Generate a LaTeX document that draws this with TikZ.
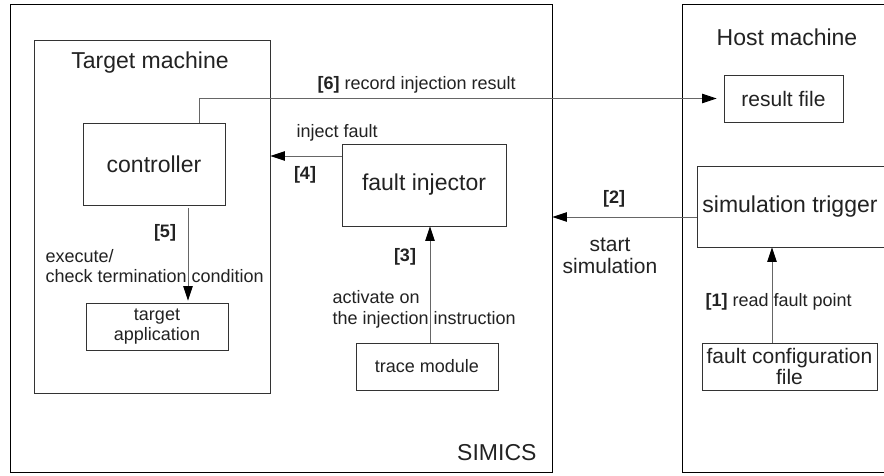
\documentclass[tikz,border=0pt]{standalone}
\usepackage{fontspec}
\setmainfont{Liberation Sans}
\usetikzlibrary{arrows.meta}
\definecolor{ink}{HTML}{222222}
\definecolor{edge}{HTML}{333333}
\definecolor{wire}{HTML}{666666}
\tikzset{
  frame/.style={draw=black, line width=0.9pt, inner sep=0pt},
  unit/.style={draw=edge, line width=0.8pt, inner sep=0pt, text=ink},
  bigtext/.style={font=\fontsize{23}{26}\selectfont, text=ink},
  midtext/.style={font=\fontsize{21}{22}\selectfont, text=ink},
  smalltext/.style={font=\fontsize{18}{20.5}\selectfont, text=ink},
  arr/.style={draw=wire, line width=0.9pt,
    -{Triangle[length=14.5pt,width=9.5pt,color=black]}},
  tag/.style={font=\fontsize{18}{20.5}\selectfont\bfseries, text=ink}
}
\begin{document}
\begin{tikzpicture}[x=1pt,y=-1pt]
\useasboundingbox (0,0) rectangle (884,476);
\clip (0,0) rectangle (884,476);
\fill[white] (0,0) rectangle (884,476);

% outer enclosures
\node[frame, minimum width=542pt, minimum height=468pt] (simics) at (281,238) {};
\node[frame, minimum width=230pt, minimum height=468pt] (host) at (797,238) {};
\node[bigtext, anchor=east] (simlbl) at (540,453) {SIMICS};
\node[bigtext] (hostlbl) at (787,37) {Host machine};

% target machine
\node[frame, draw=edge, minimum width=236pt, minimum height=353pt] (tm) at (152,216.5) {};
\node[bigtext] (tmlbl) at (150,63) {Target machine};

% components
\node[unit, bigtext, minimum width=142pt, minimum height=82pt] (ctrl) at (154,164) {controller};
\node[unit, bigtext, minimum width=164pt, minimum height=82pt] (inj) at (424,185) {fault injector};
\node[unit, smalltext, align=center, minimum width=142pt, minimum height=47pt] (tapp) at (157,326.5) {target\\application};
\node[unit, smalltext, minimum width=142pt, minimum height=47pt] (trace) at (427,366.5) {trace module};
\node[unit, midtext, minimum width=119pt, minimum height=47pt] (result) at (783.5,98.5) {result file};
\node[unit, minimum width=220pt, minimum height=81pt] (trig) at (807,206.5) {};
\node[bigtext] (triglbl) at (790,207) {simulation trigger};
\node[unit, midtext, align=center, minimum width=175pt, minimum height=47pt] (fconf) at (789.5,366.5) {fault configuration\\[-1pt]file};

% connectors
\draw[arr, shorten >=7pt] ([xshift=45pt]ctrl.north) |- (result.west);
\draw[arr] ([yshift=29pt]inj.west) -- ([yshift=29pt]inj.west -| tm.east);
\draw[arr, shorten <=3pt, shorten >=2pt] ([xshift=34pt]ctrl.south) -- ([xshift=31pt]tapp.north);
\draw[arr] ([xshift=3pt]trace.north) -- ([xshift=6pt]inj.south);
\draw[arr] (trig.west |- 0,217) -- (simics.east |- 0,217);
\draw[arr] ([xshift=-17.5pt]fconf.north) -- (trig.south -| 772,0);

% connector labels
\node[smalltext, anchor=west] (l6) at (314,85) {\textbf{[6]} record injection result};
\node[smalltext, anchor=west] (l4a) at (293,133) {inject fault};
\node[tag] (l4) at (305,175) {[4]};
\node[tag] (l5) at (165,233) {[5]};
\node[smalltext, anchor=west, align=left] (l5a) at (42,266) {execute/\\check termination condition};
\node[tag] (l3) at (405,257) {[3]};
\node[smalltext, anchor=west, align=left] (l3a) at (329,309.5) {activate on\\the injection instruction};
\node[tag] (l2) at (614,199) {[2]};
\node[midtext, align=center] (l2a) at (610,256) {start\\simulation};
\node[smalltext, anchor=west] (l1) at (702,302) {\textbf{[1]} read fault point};
\end{tikzpicture}
\end{document}
